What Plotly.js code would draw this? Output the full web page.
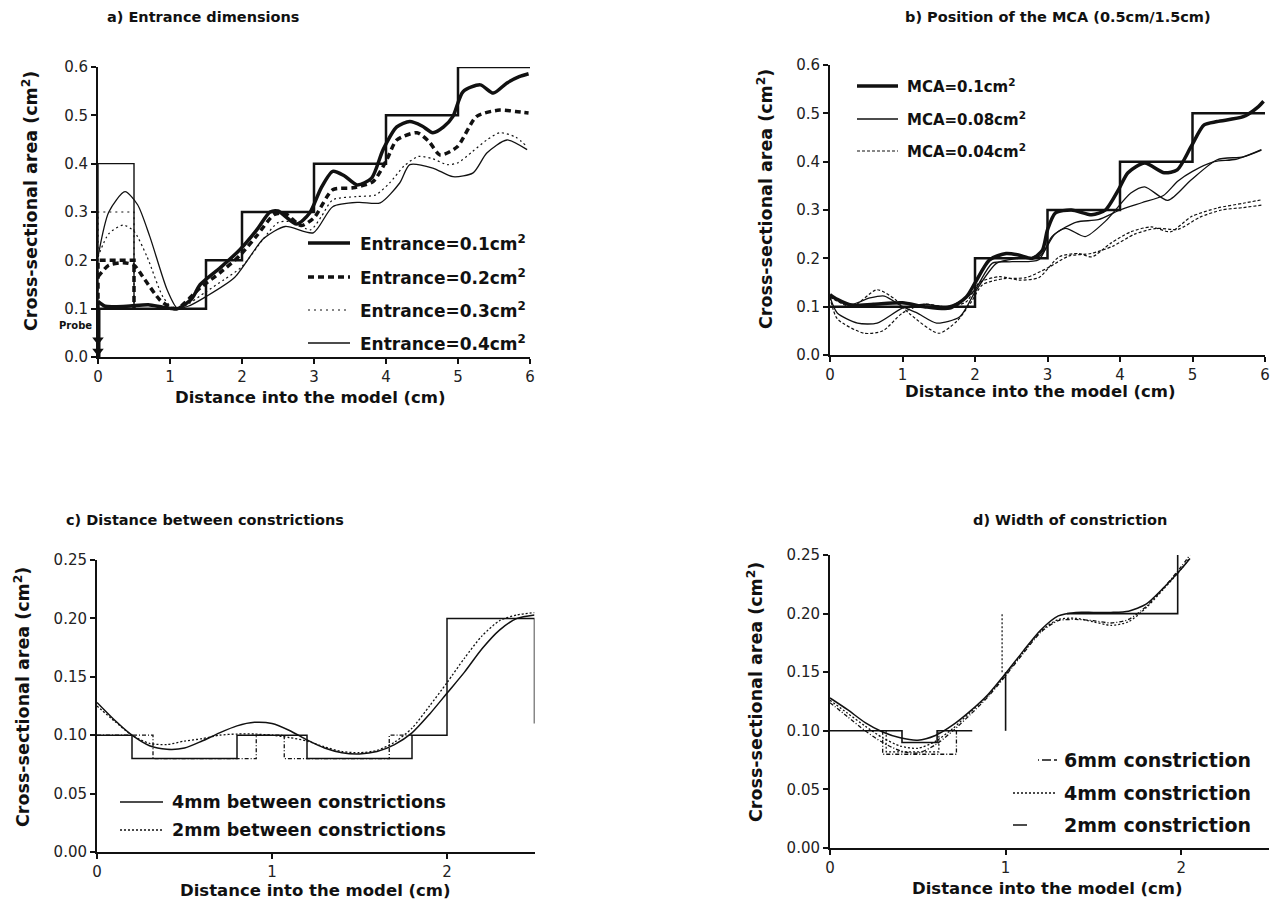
<!DOCTYPE html>
<html>
<head>
<meta charset="utf-8">
<script src="https://cdn.plot.ly/plotly-3.0.1.min.js"></script>
<style>html,body{margin:0;padding:0;background:#fff;}#chart{width:1281px;height:922px;}</style>
</head>
<body>
<div id="chart"></div>
<script>
// ---------------- DATA ----------------
// Panel a: entrance dimensions
const geomA_x = [0, 1.5, 2, 3, 4, 5, 6];
const geomA_y = [0.1, 0.2, 0.3, 0.4, 0.5, 0.6, 0.6];
const entranceAreas = [0.2, 0.3, 0.4];
const entranceLength = 0.5;
const entrance01_x = [0, 0.1, 0.4, 0.7, 0.9, 1.1, 1.3, 1.42, 1.7, 1.97, 2.2, 2.39, 2.5, 2.76, 2.94, 3.1, 3.26, 3.42, 3.6, 3.8, 3.96, 4.15, 4.33, 4.5, 4.65, 4.8, 4.93, 5.07, 5.31, 5.49, 5.68, 5.85, 5.98];
const entrance01_y = [0.115, 0.105, 0.105, 0.108, 0.103, 0.1, 0.12, 0.15, 0.185, 0.222, 0.262, 0.3, 0.302, 0.275, 0.298, 0.35, 0.384, 0.375, 0.356, 0.37, 0.429, 0.476, 0.487, 0.478, 0.464, 0.476, 0.498, 0.549, 0.563, 0.546, 0.567, 0.58, 0.586];
const entrance02_x = [0, 0.15, 0.35, 0.5, 0.65, 0.86, 1.0, 1.1, 1.42, 1.7, 1.97, 2.2, 2.45, 2.6, 2.82, 3.0, 3.26, 3.54, 3.82, 4.01, 4.15, 4.43, 4.6, 4.75, 4.99, 5.26, 5.58, 5.8, 5.98];
const entrance02_y = [0.166, 0.19, 0.195, 0.19, 0.16, 0.118, 0.103, 0.1, 0.143, 0.175, 0.21, 0.25, 0.295, 0.297, 0.272, 0.288, 0.346, 0.35, 0.363, 0.408, 0.449, 0.464, 0.445, 0.418, 0.435, 0.498, 0.511, 0.508, 0.505];
const entrance03_x = [0, 0.15, 0.35, 0.5, 0.68, 0.9, 1.05, 1.2, 1.5, 1.75, 2.0, 2.3, 2.5, 2.7, 2.95, 3.1, 3.26, 3.6, 3.85, 4.05, 4.25, 4.45, 4.65, 4.85, 5.0, 5.2, 5.4, 5.58, 5.8, 5.96];
const entrance03_y = [0.207, 0.255, 0.273, 0.26, 0.208, 0.125, 0.1, 0.105, 0.135, 0.16, 0.187, 0.245, 0.278, 0.28, 0.263, 0.29, 0.325, 0.332, 0.335, 0.36, 0.395, 0.415, 0.41, 0.398, 0.402, 0.425, 0.449, 0.464, 0.455, 0.435];
const entrance04_x = [0, 0.15, 0.375, 0.55, 0.72, 0.96, 1.1, 1.25, 1.5, 1.9, 2.3, 2.6, 2.99, 3.26, 3.62, 3.92, 4.19, 4.33, 4.65, 4.93, 5.21, 5.4, 5.68, 5.96];
const entrance04_y = [0.207, 0.3, 0.342, 0.315, 0.249, 0.139, 0.101, 0.105, 0.125, 0.165, 0.245, 0.27, 0.257, 0.311, 0.32, 0.319, 0.36, 0.398, 0.391, 0.373, 0.381, 0.422, 0.449, 0.429];
const probe_y = [0.035, 0.012];

// Panel b: position of the MCA
const geomB_x = [0, 2, 3, 4, 5, 6];
const geomB_y = [0.1, 0.2, 0.3, 0.4, 0.5, 0.5];
const mca010_x = [0, 0.1, 0.3, 0.6, 1.0, 1.3, 1.65, 1.88, 2.0, 2.2, 2.43, 2.6, 2.79, 2.93, 3.0, 3.11, 3.33, 3.61, 3.8, 3.98, 4.11, 4.34, 4.61, 4.79, 4.98, 5.16, 5.34, 5.7, 5.91, 5.98];
const mca010_y = [0.125, 0.115, 0.103, 0.105, 0.108, 0.1, 0.097, 0.12, 0.149, 0.197, 0.21, 0.207, 0.2, 0.217, 0.259, 0.294, 0.3, 0.29, 0.3, 0.342, 0.377, 0.397, 0.377, 0.383, 0.431, 0.476, 0.483, 0.493, 0.514, 0.525];
const mca008a_x = [0, 0.1, 0.38, 0.65, 1.0, 1.3, 1.6, 1.85, 2.0, 2.24, 2.51, 2.88, 3.06, 3.25, 3.52, 3.8, 4.15, 4.34, 4.66, 4.98, 5.34, 5.7, 5.95];
const mca008a_y = [0.12, 0.087, 0.066, 0.066, 0.097, 0.105, 0.1, 0.115, 0.135, 0.19, 0.193, 0.197, 0.245, 0.262, 0.245, 0.277, 0.335, 0.348, 0.32, 0.362, 0.404, 0.41, 0.424];
const mca008b_x = [0, 0.3, 0.55, 0.75, 1.0, 1.2, 1.47, 1.79, 2.0, 2.3, 2.6, 2.9, 3.1, 3.4, 3.7, 4.0, 4.3, 4.6, 4.8, 5.0, 5.3, 5.6, 5.95];
const mca008b_y = [0.12, 0.105, 0.118, 0.122, 0.1, 0.087, 0.066, 0.079, 0.13, 0.19, 0.2, 0.205, 0.25, 0.275, 0.28, 0.3, 0.315, 0.33, 0.36, 0.38, 0.4, 0.405, 0.425];
const mca004a_x = [0, 0.1, 0.47, 0.73, 1.0, 1.3, 1.6, 1.88, 2.06, 2.34, 2.61, 2.88, 3.16, 3.43, 3.61, 3.88, 4.15, 4.43, 4.7, 4.98, 5.34, 5.7, 5.95];
const mca004a_y = [0.12, 0.075, 0.045, 0.05, 0.087, 0.105, 0.1, 0.11, 0.15, 0.162, 0.155, 0.16, 0.203, 0.21, 0.203, 0.232, 0.255, 0.265, 0.255, 0.286, 0.304, 0.314, 0.321];
const mca004b_x = [0, 0.3, 0.65, 0.9, 1.1, 1.5, 1.75, 1.95, 2.1, 2.4, 2.7, 3.0, 3.3, 3.6, 3.9, 4.2, 4.5, 4.8, 5.1, 5.4, 5.7, 5.95];
const mca004b_y = [0.12, 0.1, 0.135, 0.115, 0.085, 0.045, 0.07, 0.11, 0.145, 0.158, 0.16, 0.18, 0.205, 0.21, 0.225, 0.25, 0.262, 0.26, 0.285, 0.3, 0.305, 0.31];

// Panel c: distance between constrictions
const geomC4_x = [0, 0.2, 0.8, 1.2, 1.8, 2.0, 2.5, 2.5];
const geomC4_y = [0.1, 0.08, 0.1, 0.08, 0.1, 0.2, 0.2, 0.11];
const geomC2_x = [0, 0.32, 0.91, 1.07, 1.67, 1.8];
const geomC2_y = [0.1, 0.08, 0.1, 0.08, 0.1, 0.1];
const distC_x = [0, 0.1, 0.2, 0.3, 0.4, 0.5, 0.6, 0.7, 0.8, 0.9, 1.0, 1.1, 1.2, 1.3, 1.4, 1.5, 1.6, 1.7, 1.8, 1.9, 2.0, 2.1, 2.2, 2.3, 2.4, 2.5];
const dist4mm_y = [0.128, 0.113, 0.1, 0.091, 0.088, 0.089, 0.095, 0.102, 0.108, 0.111, 0.11, 0.104, 0.096, 0.089, 0.085, 0.084, 0.086, 0.092, 0.102, 0.118, 0.136, 0.154, 0.174, 0.19, 0.2, 0.203];
const dist2mm_y = [0.125, 0.112, 0.1, 0.093, 0.092, 0.095, 0.097, 0.1, 0.101, 0.101, 0.1, 0.098, 0.095, 0.09, 0.086, 0.085, 0.087, 0.094, 0.106, 0.125, 0.145, 0.166, 0.185, 0.198, 0.203, 0.205];

// Panel d: width of constriction
const geomD_x = [0, 0.41, 0.41, 0.61, 0.61, 0.81, null, 1.0, 1.0, null, 1.35, 1.98, 1.98];
const geomD_y = [0.1, 0.1, 0.09, 0.09, 0.1, 0.1, null, 0.1, 0.15, null, 0.2, 0.2, 0.25];
const geomD6_x = [0.3, 0.3, 0.72, 0.72];
const geomD6_y = [0.1, 0.08, 0.08, 0.1];
const geomD4_x = [0.32, 0.32, 0.62, 0.62, null, 0.98, 0.98];
const geomD4_y = [0.1, 0.082, 0.082, 0.1, null, 0.15, 0.2];
const widthD_x = [0, 0.1, 0.2, 0.3, 0.4, 0.5, 0.6, 0.7, 0.8, 0.9, 1.0, 1.1, 1.2, 1.3, 1.4, 1.5, 1.6, 1.7, 1.8, 1.9, 2.0, 2.05];
const width2mm_y = [0.128, 0.118, 0.107, 0.099, 0.094, 0.092, 0.096, 0.105, 0.117, 0.131, 0.149, 0.168, 0.186, 0.198, 0.201, 0.201, 0.201, 0.202, 0.208, 0.222, 0.238, 0.247];
const width4mm_y = [0.126, 0.115, 0.104, 0.094, 0.087, 0.085, 0.091, 0.102, 0.116, 0.130, 0.148, 0.167, 0.185, 0.195, 0.196, 0.193, 0.19, 0.193, 0.205, 0.221, 0.238, 0.248];
const width6mm_y = [0.124, 0.112, 0.1, 0.09, 0.083, 0.081, 0.088, 0.1, 0.114, 0.129, 0.147, 0.166, 0.184, 0.194, 0.195, 0.194, 0.192, 0.195, 0.206, 0.222, 0.24, 0.25];

// Texts
const titles = ['a) Entrance dimensions', 'b) Position of the MCA (0.5cm/1.5cm)', 'c) Distance between constrictions', 'd) Width of constriction'];
const xTitle = 'Distance into the model (cm)';
const yTitle = 'Cross-sectional area (cm<sup>2</sup>)';
const legendA = ['Entrance=0.1cm<sup>2</sup>', 'Entrance=0.2cm<sup>2</sup>', 'Entrance=0.3cm<sup>2</sup>', 'Entrance=0.4cm<sup>2</sup>'];
const legendB = ['MCA=0.1cm<sup>2</sup>', 'MCA=0.08cm<sup>2</sup>', 'MCA=0.04cm<sup>2</sup>'];
const legendC = ['4mm between constrictions', '2mm between constrictions'];
const legendD = ['6mm constriction', '4mm constriction', '2mm constriction'];

// ---------------- PLOT ----------------
const W = 1281, H = 922;
const px = v => v / W, py = v => 1 - v / H;
const K = '#111';
const FONT = 'DejaVu Sans, Liberation Sans, Arial, sans-serif';

function tr(x, y, ax, width, dash, shape) {
  return {x: x, y: y, xaxis: 'x' + ax, yaxis: 'y' + ax, type: 'scatter', mode: 'lines',
    line: {color: K, width: width, dash: dash || 'solid', shape: shape || 'spline', smoothing: 0.7},
    showlegend: false, hoverinfo: 'skip', connectgaps: false};
}
const traces = [];
// Panel a
traces.push(tr(geomA_x, geomA_y, '', 2.5, 'solid', 'hv'));
const rectStyles = {0.2: [3.5, '6px,4px'], 0.3: [1.2, '2px,4px'], 0.4: [1.4, 'solid']};
entranceAreas.forEach(e => {
  traces.push(tr([0, 0, entranceLength, entranceLength], [0.1, e, e, 0.1], '', rectStyles[e][0], rectStyles[e][1], 'linear'));
});
traces.push(tr(entrance04_x, entrance04_y, '', 1.3, 'solid'));
traces.push(tr(entrance03_x, entrance03_y, '', 1.2, '2px,3px'));
traces.push(tr(entrance02_x, entrance02_y, '', 3.5, '6px,4px'));
traces.push(tr(entrance01_x, entrance01_y, '', 3.5, 'solid'));
traces.push(tr([0, 0], [0.1, 0], '', 5, 'solid', 'linear'));
traces.push({x: [0, 0], y: probe_y, xaxis: 'x', yaxis: 'y', mode: 'markers', type: 'scatter',
  marker: {symbol: 'triangle-down', size: 10, color: K}, showlegend: false, hoverinfo: 'skip', cliponaxis: false});
// Panel b
traces.push(tr(geomB_x, geomB_y, '2', 2.5, 'solid', 'hv'));
traces.push(tr(mca004a_x, mca004a_y, '2', 1.2, '3px,2px'));
traces.push(tr(mca004b_x, mca004b_y, '2', 1.2, '3px,2px'));
traces.push(tr(mca008a_x, mca008a_y, '2', 1.3, 'solid'));
traces.push(tr(mca008b_x, mca008b_y, '2', 1.3, 'solid'));
traces.push(tr(mca010_x, mca010_y, '2', 3.5, 'solid'));
// Panel c
traces.push(tr(geomC4_x, geomC4_y, '3', 1.5, 'solid', 'hv'));
traces.push(tr(geomC2_x, geomC2_y, '3', 1.3, '4px,2px,1px,2px', 'hv'));
traces.push(tr(distC_x, dist2mm_y, '3', 1.3, '2px,2px'));
traces.push(tr(distC_x, dist4mm_y, '3', 1.5, 'solid'));
// Panel d
traces.push(tr(geomD_x, geomD_y, '4', 1.6, 'solid', 'linear'));
traces.push(tr(geomD6_x, geomD6_y, '4', 1.3, '4px,2px,1px,2px', 'linear'));
traces.push(tr(geomD4_x, geomD4_y, '4', 1.2, '2px,2px', 'linear'));
traces.push(tr(widthD_x, width6mm_y, '4', 1.3, '4px,2px,1px,2px'));
traces.push(tr(widthD_x, width4mm_y, '4', 1.3, '2px,2px'));
traces.push(tr(widthD_x, width2mm_y, '4', 1.5, 'solid'));

function axis(extra) {
  return Object.assign({showline: true, linecolor: K, linewidth: 2, ticks: 'outside', ticklen: 5, tickwidth: 2,
    tickcolor: K, showgrid: false, zeroline: false, fixedrange: true,
    tickfont: {family: FONT, size: 15, color: '#222'}}, extra);
}
const layout = {
  width: W, height: H, margin: {l: 0, r: 0, t: 0, b: 0}, paper_bgcolor: '#fff', plot_bgcolor: 'rgba(0,0,0,0)',
  showlegend: false,
  xaxis: axis({domain: [px(98), px(530)], range: [0, 6], dtick: 1, tick0: 0, anchor: 'y'}),
  yaxis: axis({domain: [py(357), py(67)], range: [0, 0.6], dtick: 0.1, tickformat: '.1f', anchor: 'x'}),
  xaxis2: axis({domain: [px(830), px(1265)], range: [0, 6], dtick: 1, tick0: 0, anchor: 'y2'}),
  yaxis2: axis({domain: [py(355), py(65)], range: [0, 0.6], dtick: 0.1, tickformat: '.1f', anchor: 'x2'}),
  xaxis3: axis({domain: [px(97), px(534.5)], range: [0, 2.5], tickvals: [0, 1, 2], anchor: 'y3'}),
  yaxis3: axis({domain: [py(852), py(560)], range: [0, 0.25], dtick: 0.05, tickformat: '.2f', anchor: 'x3'}),
  xaxis4: axis({domain: [px(830), px(1269)], range: [0, 2.5], tickvals: [0, 1, 2], anchor: 'y4'}),
  yaxis4: axis({domain: [py(848), py(555)], range: [0, 0.25], dtick: 0.05, tickformat: '.2f', anchor: 'x4'}),
  annotations: [], shapes: []
};
function ann(text, x, y, size, opts) {
  layout.annotations.push(Object.assign({text: text, x: px(x), y: py(y), xref: 'paper', yref: 'paper',
    showarrow: false, xanchor: 'center', yanchor: 'middle',
    font: {family: FONT, size: size, color: K}}, opts || {}));
}
// titles
ann('<b>' + titles[0] + '</b>', 203, 17, 14.5);
ann('<b>' + titles[1] + '</b>', 1058, 17, 14.5);
ann('<b>' + titles[2] + '</b>', 205, 520, 14.5);
ann('<b>' + titles[3] + '</b>', 1070, 520, 14.5);
// axis titles
ann('<b>' + xTitle + '</b>', 310, 397, 16.5);
ann('<b>' + xTitle + '</b>', 1040, 391, 16.5);
ann('<b>' + xTitle + '</b>', 315, 890, 16.5);
ann('<b>' + xTitle + '</b>', 1047, 888, 16.5);
ann('<b>' + yTitle + '</b>', 30, 201, 17.5, {textangle: -90});
ann('<b>' + yTitle + '</b>', 765, 199, 17.5, {textangle: -90});
ann('<b>' + yTitle + '</b>', 22, 697, 17.5, {textangle: -90});
ann('<b>' + yTitle + '</b>', 755, 692, 17.5, {textangle: -90});
ann('<b>Probe</b>', 75, 326, 10);

// legends
function legend(items, styles, x0, x1, xt, rows, size) {
  items.forEach((t, i) => {
    const s = styles[i];
    layout.shapes.push({type: 'line', xref: 'paper', yref: 'paper', x0: px(s[2] !== undefined ? s[2] : x0), x1: px(s[3] !== undefined ? s[3] : x1),
      y0: py(rows[i]), y1: py(rows[i]), line: {color: K, width: s[0], dash: s[1]}});
    ann('<b>' + t + '</b>', xt, rows[i], size, {xanchor: 'left'});
  });
}
legend(legendA, [[3.5, 'solid'], [3.5, '6px,4px'], [1.2, '2px,4px'], [1.4, 'solid']], 308, 350, 358, [243, 277, 310, 343], 17);
legend(legendB, [[3.5, 'solid'], [1.3, 'solid'], [1.2, '3px,2px']], 857, 898, 905, [86, 119, 151], 15);
legend(legendC, [[1.5, 'solid'], [1.3, '2px,2px']], 120, 163, 170, [802, 830], 17.5);
legend(legendD, [[1.3, '1px,3px,8px,0px', 1038], [1.3, '2px,2px'], [1.5, 'solid', 1013, 1027]], 1013, 1057, 1062, [760, 793, 825], 19);

Plotly.newPlot('chart', traces, layout, {staticPlot: true, displayModeBar: false});
</script>
</body>
</html>
